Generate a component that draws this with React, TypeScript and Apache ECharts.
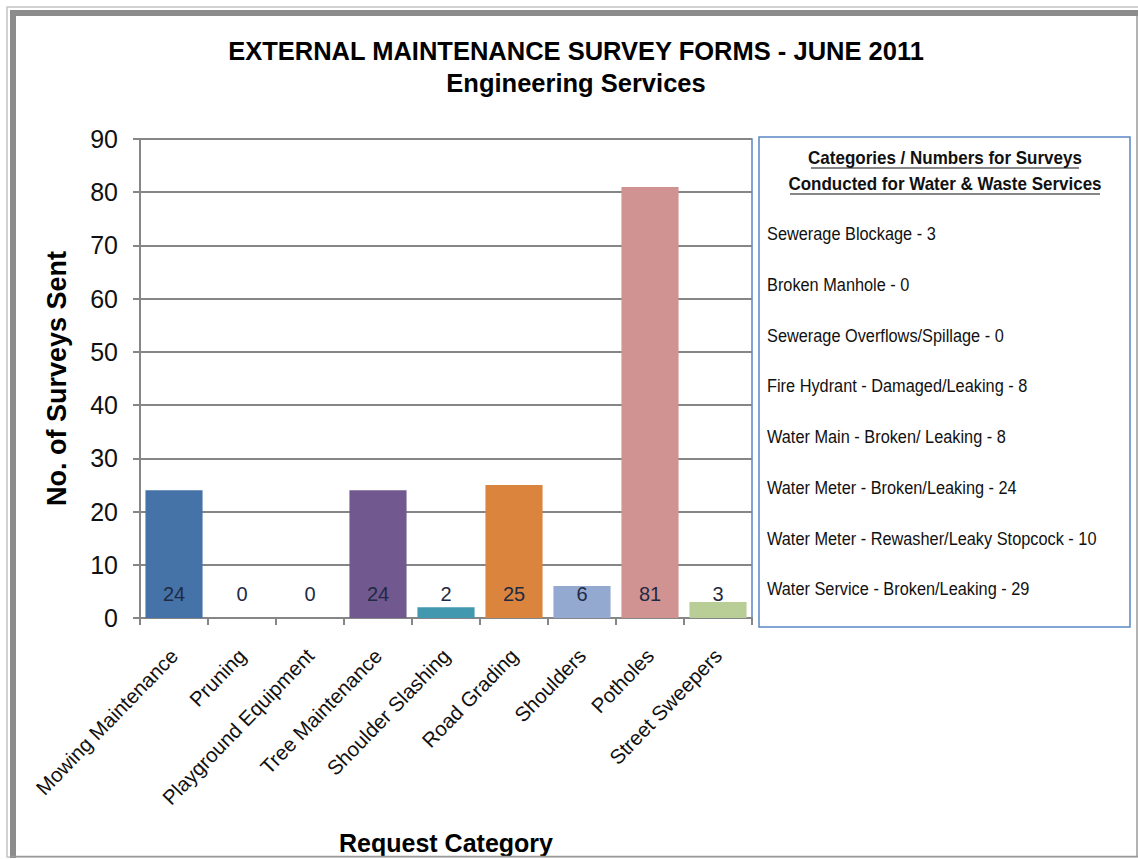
import React, { useEffect, useRef } from "react";
import * as echarts from "echarts";

const titleText = "EXTERNAL MAINTENANCE SURVEY FORMS - JUNE 2011";
const subtitleText = "Engineering Services";
const categories = [
  "Mowing Maintenance",
  "Pruning",
  "Playground Equipment",
  "Tree Maintenance",
  "Shoulder Slashing",
  "Road Grading",
  "Shoulders",
  "Potholes",
  "Street Sweepers",
];
const surveyValues = [24, 0, 0, 24, 2, 25, 6, 81, 3];
const barColors = [
  "#4572A7",
  "#AA4643",
  "#89A54E",
  "#71588F",
  "#4198AF",
  "#DB843D",
  "#93A9CF",
  "#D19392",
  "#B9CD96",
];
const yAxisTitle = "No. of Surveys Sent";
const xAxisTitle = "Request Category";
const yTicks = [0, 10, 20, 30, 40, 50, 60, 70, 80, 90];
const boxTitleLines = [
  "Categories / Numbers for Surveys",
  "Conducted for Water & Waste Services",
];
const boxItems = [
  "Sewerage Blockage - 3",
  "Broken Manhole - 0",
  "Sewerage Overflows/Spillage - 0",
  "Fire Hydrant - Damaged/Leaking - 8",
  "Water Main - Broken/ Leaking - 8",
  "Water Meter - Broken/Leaking - 24",
  "Water Meter - Rewasher/Leaky Stopcock - 10",
  "Water Service - Broken/Leaking - 29",
];

const ARIAL = "'Liberation Sans', Arial, sans-serif";

export default function App() {
  const ref = useRef<HTMLDivElement>(null);
  useEffect(() => {
    if (!ref.current) return;
    const chart = echarts.init(ref.current, null, { renderer: "svg" });

    const graphics: any[] = [
      // outer frame
      {
        type: "rect",
        shape: { x: 7, y: 7, width: 1140, height: 850 },
        style: { fill: "none", stroke: "#c4c4c4", lineWidth: 1.5 },
        silent: true,
        z: 10,
      },
      {
        type: "rect",
        shape: { x: 10, y: 10, width: 1136, height: 6 },
        style: { fill: "#8c8c8c" },
        silent: true,
        z: 10,
      },
      {
        type: "rect",
        shape: { x: 10, y: 10, width: 6, height: 848 },
        style: { fill: "#8c8c8c" },
        silent: true,
        z: 10,
      },
      {
        type: "line",
        shape: { x1: 1137, y1: 16, x2: 1137, y2: 857 },
        style: { stroke: "#9a9a9a", lineWidth: 1.5 },
        silent: true,
        z: 10,
      },
      {
        type: "line",
        shape: { x1: 10, y1: 856.5, x2: 1138, y2: 856.5 },
        style: { stroke: "#9a9a9a", lineWidth: 1.5 },
        silent: true,
        z: 10,
      },
      // info box
      {
        type: "rect",
        shape: { x: 759, y: 137, width: 371, height: 490 },
        style: { fill: "#ffffff", stroke: "#5B87C5", lineWidth: 1.5 },
      },
    ];
    const titleY = [158, 184];
    const underline = [
      [811, 1079],
      [790, 1100],
    ];
    boxTitleLines.forEach((t, i) => {
      graphics.push({
        type: "text",
        x: 945,
        y: titleY[i],
        style: {
          text: t,
          fill: "#111",
          font: `bold 17px ${ARIAL}`,
          align: "center",
          verticalAlign: "middle",
        },
        scaleY: 1.1,
      });
      graphics.push({
        type: "line",
        shape: { x1: underline[i][0], y1: titleY[i] + 10, x2: underline[i][1], y2: titleY[i] + 10 },
        style: { stroke: "#111", lineWidth: 1.2 },
      });
    });
    boxItems.forEach((t, i) => {
      graphics.push({
        type: "text",
        x: 767,
        y: 234 + i * 50.7,
        style: {
          text: t,
          fill: "#111",
          font: `17px ${ARIAL}`,
          align: "left",
          verticalAlign: "middle",
        },
        scaleX: 0.96,
        scaleY: 1.1,
      });
    });

    chart.setOption({
      animation: false,
      backgroundColor: "#ffffff",
      title: [
        {
          text: titleText,
          left: 571,
          top: 33,
          textAlign: "center",
          textStyle: { fontFamily: ARIAL, fontWeight: "bold", fontSize: 25.5, color: "#000" },
        },
        {
          text: subtitleText,
          left: 571,
          top: 65,
          textAlign: "center",
          textStyle: { fontFamily: ARIAL, fontWeight: "bold", fontSize: 25.5, color: "#000" },
        },
      ],
      grid: {
        left: 140,
        right: 386,
        top: 139,
        bottom: 241,
        containLabel: false,
        outerBoundsMode: "none",
        show: true,
        borderColor: "#5B87C5",
        borderWidth: 1.5,
        backgroundColor: "#ffffff",
      },
      xAxis: {
        type: "category",
        data: categories,
        boundaryGap: true,
        name: xAxisTitle,
        nameLocation: "middle",
        nameGap: 212,
        nameTextStyle: { fontFamily: ARIAL, fontWeight: "bold", fontSize: 25, color: "#000" },
        axisLine: { show: true, lineStyle: { color: "#868686", width: 2 } },
        axisTick: { show: true, length: 7, alignWithLabel: false, lineStyle: { color: "#868686", width: 2 } },
        axisLabel: {
          interval: 0,
          rotate: 46,
          margin: 34,
          fontFamily: ARIAL,
          fontSize: 20.5,
          color: "#111",
        },
      },
      yAxis: {
        type: "value",
        min: 0,
        max: 90,
        interval: 10,
        name: yAxisTitle,
        nameLocation: "middle",
        nameGap: 70,
        nameRotate: 90,
        nameTextStyle: { fontFamily: ARIAL, fontWeight: "bold", fontSize: 27, color: "#000" },
        axisLine: { show: true, lineStyle: { color: "#868686", width: 2 } },
        axisTick: { show: true, length: 7, lineStyle: { color: "#868686", width: 2 } },
        axisLabel: {
          margin: 22,
          fontFamily: ARIAL,
          fontSize: 25,
          color: "#111",
          formatter: (v: number) => (yTicks.includes(v) ? String(v) : ""),
        },
        splitLine: { show: true, lineStyle: { color: "#868686", width: 1.8 } },
      },
      series: [
        {
          type: "bar",
          data: surveyValues.map((v, i) => ({ value: v, itemStyle: { color: barColors[i] } })),
          barCategoryGap: "16%",
          label: {
            show: true,
            position: "insideBottom",
            distance: 14,
            fontFamily: ARIAL,
            fontSize: 20,
            color: "#1F2A44",
          },
        },
      ],
      graphic: graphics,
    });
    return () => chart.dispose();
  }, []);
  return (
    <div
      ref={ref}
      style={{ position: "absolute", left: 0, top: 0, width: 1138, height: 859 }}
    />
  );
}
